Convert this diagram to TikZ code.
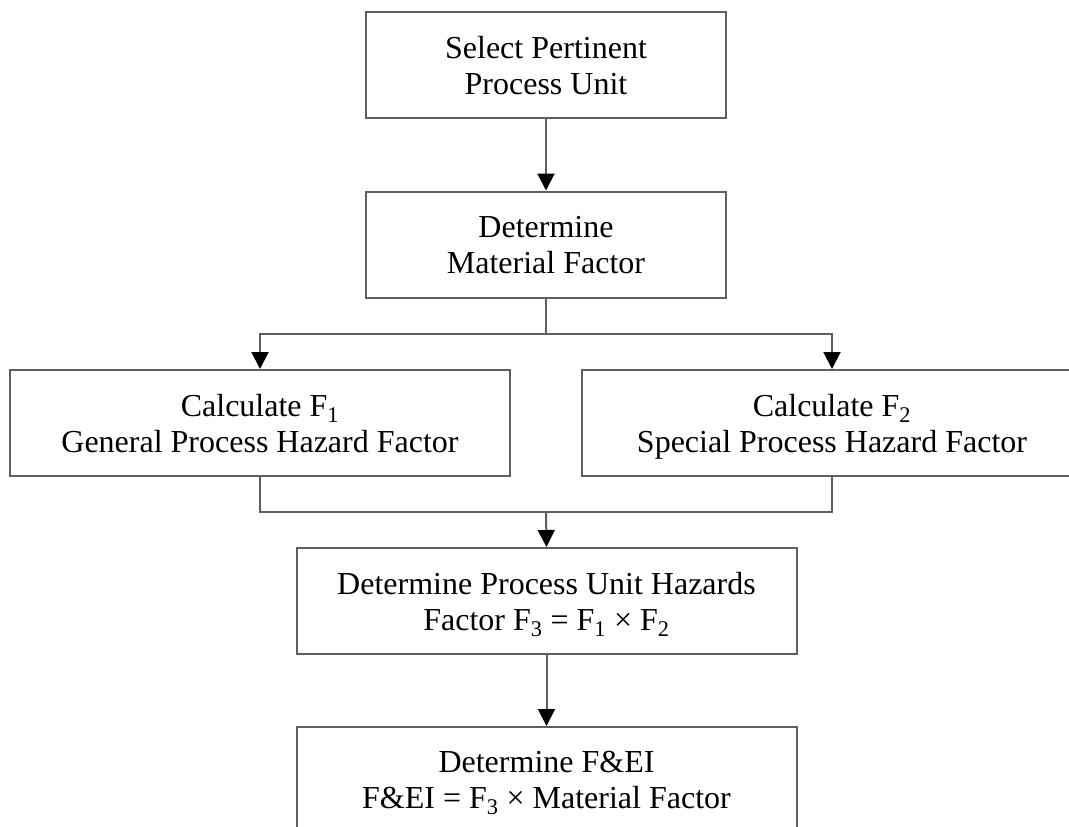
\documentclass[tikz,border=0pt]{standalone}
\usepackage{fontspec}
\setmainfont{Liberation Serif}
\usetikzlibrary{arrows.meta}
\definecolor{linegray}{RGB}{95,95,95}
\tikzset{
  box/.style={draw=linegray, line width=2pt, fill=white, inner sep=0pt, align=center,
              minimum height=106pt, text depth=0pt, font=\fontsize{32}{36}\selectfont},
  narrowbox/.style={box, minimum width=360pt},
  widebox/.style={box, minimum width=500pt},
  conn/.style={draw=linegray, line width=2pt},
  arr/.style={conn, -{Triangle[length=17pt,width=17pt,color=black,fill=black]}}
}
\begin{document}
\begin{tikzpicture}[x=1pt,y=-1pt]
\useasboundingbox (0,0) rectangle (1069,827);
\clip (0,0) rectangle (1069,827);
\fill[white] (0,0) rectangle (1069,827);

\node[narrowbox] (b1) at (546,65) {Select Pertinent\\ Process Unit};
\node[narrowbox] (b2) at (546,244.5) {Determine\\Material Factor};
\node[widebox] (b3) at (260,423) {Calculate F\textsubscript{1}\\General Process Hazard Factor};
\node[widebox] (b4) at (832,423) {Calculate F\textsubscript{2}\\Special Process Hazard Factor};
\node[widebox] (b5) at (546.5,601) {Determine Process Unit Hazards\\Factor F\textsubscript{3} = F\textsubscript{1} × F\textsubscript{2}};
\node[widebox] (b6) at (546.5,780) {Determine F\&EI\\F\&EI = F\textsubscript{3} × Material Factor};

\coordinate (j1) at (546,334);
\coordinate (j2) at (546,512);

\draw[arr] (b1.south) -- (b2.north);
\draw[conn] (b2.south) -- (j1);
\draw[arr] (j1) -| (b3.north);
\draw[arr] (j1) -| (b4.north);
\draw[conn] (b3.south) |- (j2);
\draw[conn] (b4.south) |- (j2);
\draw[arr] (j2) -- (b5.north);
\draw[arr] (b5.south) -- (b6.north);
\end{tikzpicture}
\end{document}
